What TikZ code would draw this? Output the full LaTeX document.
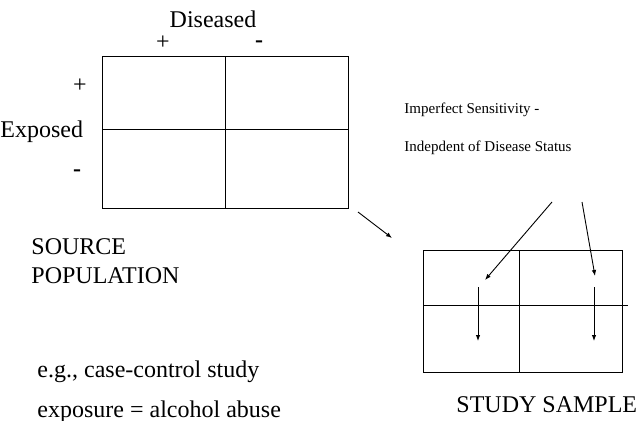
\documentclass[tikz,border=0pt]{standalone}
\usepackage{fontspec}
\setmainfont{Liberation Serif}
\usetikzlibrary{arrows.meta}
\begin{document}
\begin{tikzpicture}[x=1pt, y=-1pt, line width=0.9pt, >={Latex[length=6pt,width=4.5pt]},
    every node/.style={font=\fontsize{24}{28}\selectfont, inner sep=0pt},
    note/.style={font=\fontsize{15}{18}\selectfont, anchor=base west}]
  \useasboundingbox (0,0) rectangle (644,420);
  % source population 2x2 table
  \draw (102,56) rectangle (348,208);
  \draw (225,56) -- (225,208);
  \draw (102,129) -- (348,129);
  \node (dis) at (213,28) [anchor=base] {Diseased};
  \node (dplus) at (163,43) {+};
  \node (dminus) at (259,44) {\textbf{-}};
  \node (exp) at (0,137) [anchor=base west] {Exposed};
  \node (eplus) at (80,86) {+};
  \node (eminus) at (77,173) {\textbf{-}};
  \node (src) at (31,254) [anchor=base west] {SOURCE};
  \node (pop) at (31,283) [anchor=base west] {POPULATION};
  \node (eg) at (37,377) [anchor=base west] {e.g., case-control study};
  \node (alc) at (37,417) [anchor=base west] {exposure = alcohol abuse};
  % study sample table
  \draw (423,250) rectangle (622,372);
  \draw (519,250) -- (519,372);
  \draw (423,305) -- (628,305);
  \node (smp) at (456,412) [anchor=base west] {STUDY SAMPLE};
  \node (imp) at (404,113) [note] {Imperfect Sensitivity -};
  \node (ind) at (404,151) [note] {Indepdent of Disease Status};
  % arrows
  \coordinate (srcout) at (358,212);
  \coordinate (smpin) at (392,238);
  \draw[->] (srcout) -- (smpin);
  \coordinate (fromL) at (552,202);
  \coordinate (toL) at (485,280);
  \coordinate (fromR) at (582,202);
  \coordinate (toR) at (595,276);
  \draw[->] (fromL) -- (toL);
  \draw[->] (fromR) -- (toR);
  \coordinate (dropL) at (478,287);
  \coordinate (landL) at (478,341);
  \coordinate (dropR) at (594,287);
  \coordinate (landR) at (594,341);
  \draw[->] (dropL) -- (landL);
  \draw[->] (dropR) -- (landR);
\end{tikzpicture}
\end{document}
